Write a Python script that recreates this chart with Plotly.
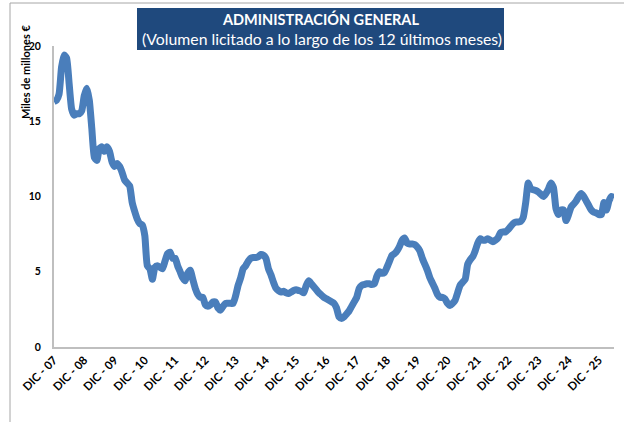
import plotly.graph_objects as go

# Monthly values (miles de millones €), first value = DIC-07
valores = [
    16.3, 16.4, 16.8, 18.6, 19.4, 19.2, 17.5, 15.8, 15.4, 15.5, 15.5, 15.7,
    16.7, 17.2, 16.4, 14.5, 12.6, 12.4, 13.2, 13.3, 13.0, 13.3, 13.0, 12.3,
    12.0, 12.2, 12.0, 11.6, 11.1, 10.9, 10.7, 9.6, 9.0, 8.5, 8.2, 8.1,
    7.4, 5.4, 5.2, 4.5, 5.3, 5.4, 5.3, 5.2, 5.7, 6.2, 6.3, 5.9,
    5.9, 5.4, 5.0, 4.6, 4.4, 4.9, 5.1, 4.5, 3.9, 3.5, 3.3, 3.3,
    2.8, 2.7, 2.8, 3.0, 3.0, 2.6, 2.45, 2.7, 2.9, 2.9, 2.9, 2.9,
    3.4, 4.1, 4.6, 5.2, 5.4, 5.7, 5.9, 5.95, 5.95, 6.0, 6.15, 6.1,
    5.9, 5.2, 4.8, 4.3, 3.9, 3.75, 3.65, 3.7, 3.6, 3.55, 3.65, 3.75,
    3.8, 3.75, 3.7, 3.6, 4.1, 4.4, 4.2, 4.0, 3.8, 3.6, 3.45, 3.3,
    3.2, 3.1, 3.0, 2.9, 2.6, 2.0, 1.9, 2.0, 2.2, 2.4, 2.7, 3.0,
    3.3, 3.9, 4.1, 4.15, 4.2, 4.2, 4.15, 4.2, 4.7, 5.0, 4.9, 4.95,
    5.3, 5.7, 6.1, 6.2, 6.4, 6.7, 7.1, 7.25, 6.9, 6.85, 6.85, 6.8,
    6.65, 6.4, 5.9, 5.5, 5.1, 4.6, 4.25, 3.9, 3.5, 3.3, 3.3, 3.2,
    2.9, 2.75, 2.9, 3.1, 3.6, 4.1, 4.3, 4.5, 5.5, 5.8, 6.0, 6.4,
    6.9, 7.2, 7.1, 7.1, 7.2, 7.1, 7.0, 7.1, 7.25, 7.6, 7.65, 7.65,
    7.8, 8.0, 8.2, 8.3, 8.3, 8.35, 8.6, 9.6, 10.9, 10.5, 10.45, 10.4,
    10.3, 10.15, 10.0, 10.2, 10.5, 10.9, 10.6, 9.2, 8.8, 9.1, 9.1, 8.4,
    8.8, 9.3, 9.5, 9.7, 10.0, 10.2, 10.0, 9.7, 9.4, 9.1, 8.95, 8.9,
    8.8, 8.8, 9.6, 9.1, 9.7, 10.0, 9.9,
]
meses = list(range(len(valores)))

etiquetas = ["DIC - %02d" % a for a in range(7, 26)]
pos_etiquetas = [12 * i for i in range(len(etiquetas))]

y_ticks = [0, 5, 10, 15, 20]

FONT = "Lato"
W, H = 624, 422
L, R, T, B = 54, 10, 46, 75
pw, ph = W - L - R, H - T - B


def px_x(x):
    return (x - L) / pw


def px_y(y):
    return (H - B - y) / ph


fig = go.Figure()
fig.add_trace(go.Scatter(
    x=meses, y=valores, mode="lines",
    line=dict(color="#4A7EBB", width=7, shape="spline", smoothing=0.5),
    hoverinfo="skip",
))

fig.update_layout(
    width=W, height=H,
    margin=dict(l=L, r=R, t=T, b=B),
    paper_bgcolor="white", plot_bgcolor="white",
    showlegend=False,
    font=dict(family=FONT, color="black"),
    xaxis=dict(
        range=[0, len(valores) - 1],
        tickvals=pos_etiquetas, ticktext=etiquetas,
        tickangle=-45, tickfont=dict(size=11.5, weight="bold", family=FONT),
        showgrid=False, zeroline=False,
        showline=True, linecolor="#BFBFBF", linewidth=2,
        ticks="", ticklen=0,
    ),
    yaxis=dict(
        range=[0, 20], tickvals=y_ticks,
        tickfont=dict(size=10.5, weight="bold", family=FONT),
        showgrid=False, zeroline=False,
        showline=True, linecolor="#BFBFBF", linewidth=2,
        ticks="outside", ticklen=9, tickcolor="white",
    ),
    shapes=[
        dict(type="rect", xref="paper", yref="paper",
             x0=px_x(10), x1=px_x(660), y0=px_y(460), y1=px_y(3),
             line=dict(color="#A6A6A6", width=1), fillcolor="rgba(0,0,0,0)",
             layer="below"),
        dict(type="rect", xref="paper", yref="paper",
             x0=px_x(137), x1=px_x(504), y0=px_y(50), y1=px_y(8),
             line=dict(width=0), fillcolor="#1F497D"),
    ],
    annotations=[
        dict(xref="paper", yref="paper", x=px_x(320.5), y=px_y(19),
             text="<b>ADMINISTRACIÓN GENERAL</b>", showarrow=False,
             font=dict(size=14.5, color="white", family=FONT),
             xanchor="center", yanchor="middle"),
        dict(xref="paper", yref="paper", x=px_x(322), y=px_y(39),
             text="(Volumen licitado a lo largo de los 12 últimos meses)",
             showarrow=False,
             font=dict(size=15.8, color="white", family=FONT),
             xanchor="center", yanchor="middle"),
        dict(xref="paper", yref="paper", x=px_x(25), y=px_y(72),
             text="<b>Miles de millones €</b>", showarrow=False, textangle=-90,
             font=dict(size=11, color="black", family=FONT),
             xanchor="center", yanchor="middle"),
    ],
)

fig.write_html("out.html", post_script="document.body.style.margin='0';",
               config={"displayModeBar": False})
